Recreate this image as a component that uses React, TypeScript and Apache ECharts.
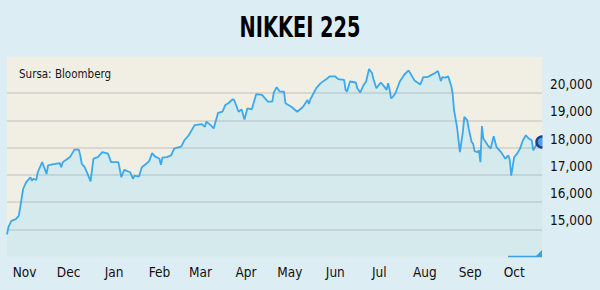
import React, { useEffect, useRef } from "react";
import * as echarts from "echarts";

const TITLE = "NIKKEI 225";
const SOURCE = "Sursa: Bloomberg";
const MONTH_LABELS = ["Jan", "Feb", "Mar", "Apr", "May", "Jun", "Jul", "Aug", "Sep", "Oct", "Nov", "Dec"];
const Y_TICKS = [15000, 16000, 17000, 18000, 19000, 20000];
const X_START = "2014-10-20";
const X_END = "2015-10-20";

const DATES = [
  "2014-10-20", "2014-10-21", "2014-10-23", "2014-10-26", "2014-10-28", "2014-10-29", "2014-10-31",
  "2014-11-02", "2014-11-05", "2014-11-06", "2014-11-07", "2014-11-09", "2014-11-10", "2014-11-13", "2014-11-16", "2014-11-17", "2014-11-20", "2014-11-25", "2014-11-26", "2014-11-27",
  "2014-12-02", "2014-12-05", "2014-12-08", "2014-12-09", "2014-12-10", "2014-12-12", "2014-12-14", "2014-12-16", "2014-12-18", "2014-12-21", "2014-12-24", "2014-12-28", "2014-12-30",
  "2015-01-04", "2015-01-06", "2015-01-08", "2015-01-12", "2015-01-14", "2015-01-15", "2015-01-18", "2015-01-20", "2015-01-23", "2015-01-25", "2015-01-27", "2015-01-29",
  "2015-02-01", "2015-02-02", "2015-02-03", "2015-02-06", "2015-02-09", "2015-02-11", "2015-02-16", "2015-02-18", "2015-02-21", "2015-02-25",
  "2015-03-02", "2015-03-04", "2015-03-05", "2015-03-08", "2015-03-10", "2015-03-13", "2015-03-16", "2015-03-18", "2015-03-20", "2015-03-23", "2015-03-24", "2015-03-27", "2015-03-29", "2015-03-31",
  "2015-04-02", "2015-04-05", "2015-04-08", "2015-04-12", "2015-04-16", "2015-04-19", "2015-04-20", "2015-04-22", "2015-04-24", "2015-04-27", "2015-04-28",
  "2015-05-02", "2015-05-06", "2015-05-10", "2015-05-13", "2015-05-14", "2015-05-15", "2015-05-19", "2015-05-22", "2015-05-26", "2015-05-28",
  "2015-06-01", "2015-06-03", "2015-06-07", "2015-06-08", "2015-06-09", "2015-06-11", "2015-06-15", "2015-06-16", "2015-06-18", "2015-06-20", "2015-06-22", "2015-06-24", "2015-06-26", "2015-06-27", "2015-06-29",
  "2015-07-02", "2015-07-04", "2015-07-06", "2015-07-07", "2015-07-08", "2015-07-09", "2015-07-10", "2015-07-12", "2015-07-15", "2015-07-18", "2015-07-21", "2015-07-23", "2015-07-25", "2015-07-29", "2015-07-31",
  "2015-08-03", "2015-08-05", "2015-08-08", "2015-08-10", "2015-08-12", "2015-08-13", "2015-08-15", "2015-08-17", "2015-08-19", "2015-08-20", "2015-08-21", "2015-08-23", "2015-08-25", "2015-08-26", "2015-08-27", "2015-08-28", "2015-08-30", "2015-08-31",
  "2015-09-02", "2015-09-03", "2015-09-04", "2015-09-06", "2015-09-07", "2015-09-08", "2015-09-09", "2015-09-10", "2015-09-13", "2015-09-15", "2015-09-17", "2015-09-19", "2015-09-22", "2015-09-25", "2015-09-27", "2015-09-28", "2015-09-29",
  "2015-10-01", "2015-10-03", "2015-10-05", "2015-10-07", "2015-10-09", "2015-10-11", "2015-10-13", "2015-10-14", "2015-10-16", "2015-10-17", "2015-10-20",
];

const CLOSES = [
  14815, 15085, 15307, 15370, 15493, 15800, 16480,
  16726, 16911, 16789, 16852, 16815, 17096, 17467, 17037, 17344, 17381, 17430, 17281, 17467,
  17652, 17926, 17926, 17715, 17407, 17281, 17037, 16763, 17593, 17652, 17837, 17778, 17467,
  17467, 16911, 17185, 17096, 16852, 16974, 16937, 17281, 17407, 17504, 17800, 17678,
  17593, 17370, 17630, 17652, 17715, 17963, 18048, 18270, 18456, 18826,
  18863, 18763, 18948, 18826, 18704, 19281, 19319, 19567, 19630, 19778, 19752, 19319, 19407, 19037,
  19444, 19407, 19963, 19937, 19689, 19689, 20022, 20222, 20059, 20059, 19630,
  19504, 19319, 19504, 19752, 19604, 19778, 20185, 20370, 20519, 20615,
  20615, 20519, 20493, 20122, 20059, 20430, 20393, 20185, 20022, 20270, 20430, 20889, 20741, 20519, 20185,
  20393, 20270, 20122, 20370, 20148, 19815, 19852, 20000, 20430, 20678, 20840, 20655, 20470, 20322, 20593,
  20593, 20655, 20741, 20815, 20444, 20593, 20570, 20618, 20285, 20000, 19381, 18763, 17837, 18207, 18578, 19133, 19011, 18704,
  18207, 18148, 17874, 17837, 17900, 17467, 18789, 18333, 18085, 17963, 18419, 18022, 17837, 17593, 17715, 17556, 16974,
  17652, 17778, 17963, 18270, 18456, 18333, 18270, 17900, 18085, 18207, 18207,
];

export default function App() {
  const ref = useRef<HTMLDivElement>(null);

  useEffect(() => {
    document.body.style.margin = "0";
    if (!ref.current) return;
    const chart = echarts.init(ref.current, null, { renderer: "svg" });
    const font = '"DejaVu Sans Condensed", "Liberation Sans Narrow", "DejaVu Sans", sans-serif';
    const bg = "#ddedf4";
    const gridColor = "rgba(125,135,135,0.28)";
    const none = "rgba(0,0,0,0)";
    const splitColors = [none, ...Y_TICKS.map(() => gridColor), none, none];
    const data = DATES.map((d, i) => [d, CLOSES[i]]);
    const last = data[data.length - 1];

    chart.setOption({
      animation: false,
      backgroundColor: bg,
      grid: {
        left: 7,
        right: 58,
        top: 57,
        bottom: 33.5,
        show: true,
        backgroundColor: "#f1eee4",
        borderWidth: 0,
      },
      xAxis: {
        type: "time",
        min: X_START,
        max: X_END,
        minInterval: 28 * 86400000,
        maxInterval: 31 * 86400000,
        axisLine: { show: false },
        axisTick: { show: false },
        splitLine: { show: false },
        axisLabel: {
          formatter: (v: number) => MONTH_LABELS[new Date(v).getMonth()],
          showMinLabel: false,
          showMaxLabel: false,
          hideOverlap: false,
          margin: 8,
          color: "#111111",
          fontSize: 13.5,
          fontFamily: font,
        },
      },
      yAxis: {
        type: "value",
        position: "right",
        min: 14000,
        max: 21330,
        interval: 1000,
        z: 3,
        axisLine: { show: false },
        axisTick: { show: false },
        splitLine: { show: true, lineStyle: { color: splitColors, width: 1.5 } },
        axisLabel: {
          formatter: (v: number) => (Y_TICKS.includes(v) ? v.toLocaleString("en-US") : ""),
          margin: 8,
          color: "#111111",
          fontSize: 13.5,
          fontFamily: font,
          verticalAlign: "bottom",
          lineHeight: 18,
        },
      },
      series: [
        {
          type: "line",
          data,
          showSymbol: false,
          z: 2,
          lineStyle: { color: "#3aa9ee", width: 1.8 },
          areaStyle: { color: "#d4eaec", opacity: 1, origin: "start" },
          markPoint: {
            symbol: "circle",
            symbolSize: 11,
            silent: true,
            label: { show: false },
            itemStyle: { color: "#4f9fe6", borderColor: "#1d3f8f", borderWidth: 2.5 },
            data: [{ coord: last }],
          },
        },
      ],
      graphic: [
        {
          type: "rect",
          z: 10,
          shape: { x: 542.5, y: 125, width: 7, height: 35 },
          style: { fill: bg },
        },
        {
          type: "text",
          x: 300,
          y: 27,
          scaleY: 1.34,
          z: 10,
          style: {
            text: TITLE,
            fill: "#000000",
            fontSize: 21.5,
            fontWeight: "bold",
            fontFamily: font,
            align: "center",
            verticalAlign: "middle",
          },
        },
        {
          type: "text",
          x: 19,
          y: 73.5,
          z: 10,
          style: {
            text: SOURCE,
            fill: "#151515",
            fontSize: 11.5,
            fontFamily: font,
            align: "left",
            verticalAlign: "middle",
          },
        },
        {
          type: "line",
          z: 10,
          shape: { x1: 508, y1: 256.5, x2: 542, y2: 256.5 },
          style: { stroke: "#3d9fe3", lineWidth: 1.5 },
        },
        {
          type: "polygon",
          z: 10,
          shape: { points: [[535, 257], [542, 250], [542, 257]] },
          style: { fill: "#3d9fe3" },
        },
      ],
    });

    return () => chart.dispose();
  }, []);

  return <div ref={ref} style={{ width: 600, height: 290 }} />;
}
